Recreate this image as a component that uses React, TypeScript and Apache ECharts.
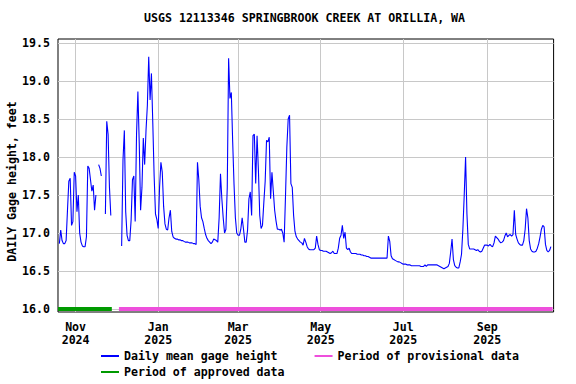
import React, { useEffect, useRef } from 'react';
import * as echarts from 'echarts';

const DAY = 86400000;
const FIRST_DAY = Date.UTC(2024, 9, 20);
const AXIS_MIN = Date.UTC(2024, 9, 19);
const AXIS_MAX = Date.UTC(2025, 9, 20);

// Daily mean gage height (feet), one value per day from 2024-10-20; null = missing
const gageHeight: (number | null)[] = [
  16.86, 17.04, 16.9, 16.86, 16.86, 16.9, 17.3, 17.68, 17.72, 17.1,
  17.15, 17.8, 17.75, 17.28, 17.5, 17.0, 16.88, 16.83, 16.82, 16.82,
  16.95, 17.88, 17.85, 17.7, 17.55, 17.63, 17.3, 17.5, null, 17.9,
  17.85, 17.75, null, null, 17.25, 18.47, 18.3, 17.6, 17.23, null,
  null, null, null, null, null, null, 16.83, 17.96, 18.35, 17.28,
  16.97, 16.9, 16.9, 17.17, 17.7, 17.75, 17.15, 18.3, 18.86, 18.18,
  17.3, 17.6, 18.25, 17.9, 18.35, 18.68, 19.32, 18.75, 19.1, 18.45,
  17.75, 17.25, 17.18, 17.06, 17.6, 17.93, 17.8, 17.35, 17.12, 17.05,
  17.04, 17.2, 17.3, 17.02, 16.95, 16.93, 16.92, 16.92, 16.91, 16.91,
  16.9, 16.9, 16.89, 16.88, 16.88, 16.88, 16.87, 16.87, 16.87, 16.86,
  16.86, 16.85, 17.93, 17.7, 17.35, 17.2, 17.15, 17.06, 16.98, 16.93,
  16.9, 16.88, 16.86, 16.88, 16.92, 16.91, 16.9, 16.88, 17.2, 17.78,
  17.45, 17.2, 17.0, 17.05, 17.6, 19.3, 18.77, 18.85, 18.2, 17.64,
  17.2, 17.0, 16.97, 16.97, 17.05, 17.2, 17.05, 16.88, 16.88, 17.04,
  17.45, 17.54, 17.23, 18.28, 18.3, 17.65, 18.28, 17.83, 17.23, 17.06,
  17.1, 17.4, 17.68, 18.22, 18.2, 18.26, 17.45, 17.8, 17.55, 17.3,
  17.16, 17.05, 17.05, 17.04, 17.05, 17.0, 16.88, 17.48, 18.13, 18.5,
  18.55, 17.65, 17.6, 17.23, 17.02, 16.95, 16.92, 16.9, 16.88, 16.87,
  16.84, 16.93, 16.88, 16.82, 16.79, 16.78, 16.78, 16.78, 16.78, 16.8,
  16.96, 16.85, 16.78, 16.77, 16.77, 16.76, 16.76, 16.76, 16.75, 16.74,
  16.73, 16.74, 16.76, 16.73, 16.73, 16.73, 16.8, 16.93, 16.97, 17.1,
  16.93, 17.01, 16.8, 16.78, 16.8, 16.75, 16.73, 16.73, 16.73, 16.73,
  16.72, 16.72, 16.72, 16.71, 16.71, 16.7, 16.7, 16.69, 16.69, 16.68,
  16.67, 16.67, 16.67, 16.67, 16.67, 16.67, 16.67, 16.67, 16.67, 16.67,
  16.67, 16.67, 16.67, 16.96, 16.89, 16.7, 16.66, 16.65, 16.64, 16.63,
  16.62, 16.62, 16.61, 16.6, 16.59, 16.59, 16.59, 16.58, 16.58, 16.58,
  16.57, 16.57, 16.57, 16.57, 16.57, 16.57, 16.57, 16.56, 16.56, 16.56,
  16.58, 16.56, 16.58, 16.58, 16.58, 16.58, 16.58, 16.58, 16.58, 16.58,
  16.57, 16.56, 16.55, 16.54, 16.53, 16.54, 16.55, 16.56, 16.6, 16.75,
  16.92, 16.65, 16.57, 16.55, 16.54, 16.54, 16.62, 16.72, 17.05, 17.5,
  18.0, 17.25, 16.85, 16.79, 16.79, 16.79, 16.79, 16.78, 16.77, 16.78,
  16.76, 16.75, 16.76, 16.8, 16.84, 16.84, 16.84, 16.83, 16.85, 16.83,
  16.82, 16.87, 16.96, 16.94, 16.92, 16.89, 16.87, 16.88, 16.9, 16.96,
  17.0, 16.95, 16.97, 16.98, 16.96, 16.98, 17.3, 16.98, 16.92, 16.87,
  16.85, 16.84, 16.84, 16.9, 17.05, 17.32, 17.2, 16.9, 16.79, 16.76,
  16.75, 16.75, 16.76, 16.8, 16.86, 16.95, 17.05, 17.1, 17.08, 16.85,
  16.77, 16.75, 16.77, 16.82,
];

const xTickDates = [
  Date.UTC(2024, 10, 1), Date.UTC(2025, 0, 1), Date.UTC(2025, 2, 1),
  Date.UTC(2025, 4, 1), Date.UTC(2025, 6, 1), Date.UTC(2025, 8, 1),
];
const xTickLabels = ['Nov\n2024', 'Jan\n2025', 'Mar\n2025', 'May\n2025', 'Jul\n2025', 'Sep\n2025'];
const yTicks = [16.0, 16.5, 17.0, 17.5, 18.0, 18.5, 19.0, 19.5];

const approvedPeriod = [Date.UTC(2024, 9, 19), Date.UTC(2024, 10, 27, 18)];
const provisionalPeriod = [Date.UTC(2024, 11, 3), Date.UTC(2025, 9, 19, 6)];
const PERIOD_LEVEL = 16.0;

const FONT = "'DejaVu Sans Mono', monospace";
const textBase = { fontFamily: FONT, fontWeight: 'bold' as const, fontSize: 11.6, color: '#000' };

function buildMainData() {
  return gageHeight.map((v, i) => {
    const t = FIRST_DAY + i * DAY;
    if (v == null) return [t, '-'];
    const prev = i > 0 ? gageHeight[i - 1] : null;
    const next = i < gageHeight.length - 1 ? gageHeight[i + 1] : null;
    if (prev == null && next == null) {
      return { value: [t, v], symbol: 'rect', symbolSize: [2, 2] };
    }
    return [t, v];
  });
}

export default function App() {
  const ref = useRef<HTMLDivElement>(null);
  useEffect(() => {
    document.body.style.margin = '0';
    const chart = echarts.init(ref.current!, null, { renderer: 'svg' });
    const option: any = {
      animation: false,
      backgroundColor: '#fff',
      title: {
        text: 'USGS 12113346 SPRINGBROOK CREEK AT ORILLIA, WA',
        left: 144,
        top: 12,
        padding: 0,
        textStyle: { ...textBase },
      },
      grid: {
        left: 58, right: 22.4, top: 39, bottom: 72,
        outerBoundsMode: 'none',
        containLabel: false,
        show: true, borderColor: '#000', borderWidth: 1, backgroundColor: 'transparent',
      },
      xAxis: {
        type: 'value',
        min: AXIS_MIN,
        max: AXIS_MAX,
        axisLine: { show: false },
        axisTick: { show: false, customValues: xTickDates },
        axisLabel: {
          customValues: xTickDates,
          formatter: (v: number) => {
            const idx = xTickDates.indexOf(v);
            return idx >= 0 ? xTickLabels[idx] : '';
          },
          ...textBase,
          margin: 8,
          lineHeight: 13,
        },
        splitLine: { show: true, lineStyle: { color: '#c8c8c8', width: 1 } },
      },
      yAxis: {
        type: 'value',
        min: 15.9605,
        max: 19.5526,
        splitNumber: 7,
        name: 'DAILY Gage height, feet',
        nameLocation: 'middle',
        nameRotate: 90,
        nameGap: 40,
        nameMoveOverlap: false,
        nameTextStyle: { ...textBase, padding: [0, 12, 0, 0] },
        axisLine: { show: false },
        axisTick: { show: false, customValues: yTicks },
        axisLabel: {
          customValues: yTicks,
          formatter: (v: number) => v.toFixed(1),
          ...textBase,
          margin: 8,
        },
        splitLine: { show: true, lineStyle: { color: '#c8c8c8', width: 1 } },
      },
      legend: [
        {
          left: 100, top: 350, padding: 0, itemWidth: 18, itemHeight: 1, itemGap: 36,
          textStyle: { ...textBase },
          selectedMode: false,
          data: ['Daily mean gage height', 'Period of provisional data'],
        },
        {
          left: 100, top: 366, padding: 0, itemWidth: 18, itemHeight: 1,
          textStyle: { ...textBase },
          selectedMode: false,
          data: ['Period of approved data'],
        },
      ],
      series: [
        {
          name: 'Period of approved data',
          type: 'line',
          data: approvedPeriod.map((t) => [t, PERIOD_LEVEL]),
          color: '#009a00',
          lineStyle: { width: 4, color: '#009a00' },
          symbol: 'none',
          silent: true,
          z: 2,
        },
        {
          name: 'Period of provisional data',
          type: 'line',
          data: provisionalPeriod.map((t) => [t, PERIOD_LEVEL]),
          color: '#ee4fdc',
          lineStyle: { width: 4, color: '#ee4fdc' },
          symbol: 'none',
          silent: true,
          z: 2,
        },
        {
          name: 'Daily mean gage height',
          type: 'line',
          data: buildMainData(),
          color: '#0000ff',
          lineStyle: { width: 1.1, color: '#0000ff' },
          itemStyle: { color: '#0000ff' },
          symbol: 'none',
          showSymbol: true,
          connectNulls: false,
          silent: true,
          z: 3,
        },
      ],
    };
    chart.setOption(option);
    return () => chart.dispose();
  }, []);
  return <div ref={ref} style={{ width: 576, height: 384 }} />;
}
